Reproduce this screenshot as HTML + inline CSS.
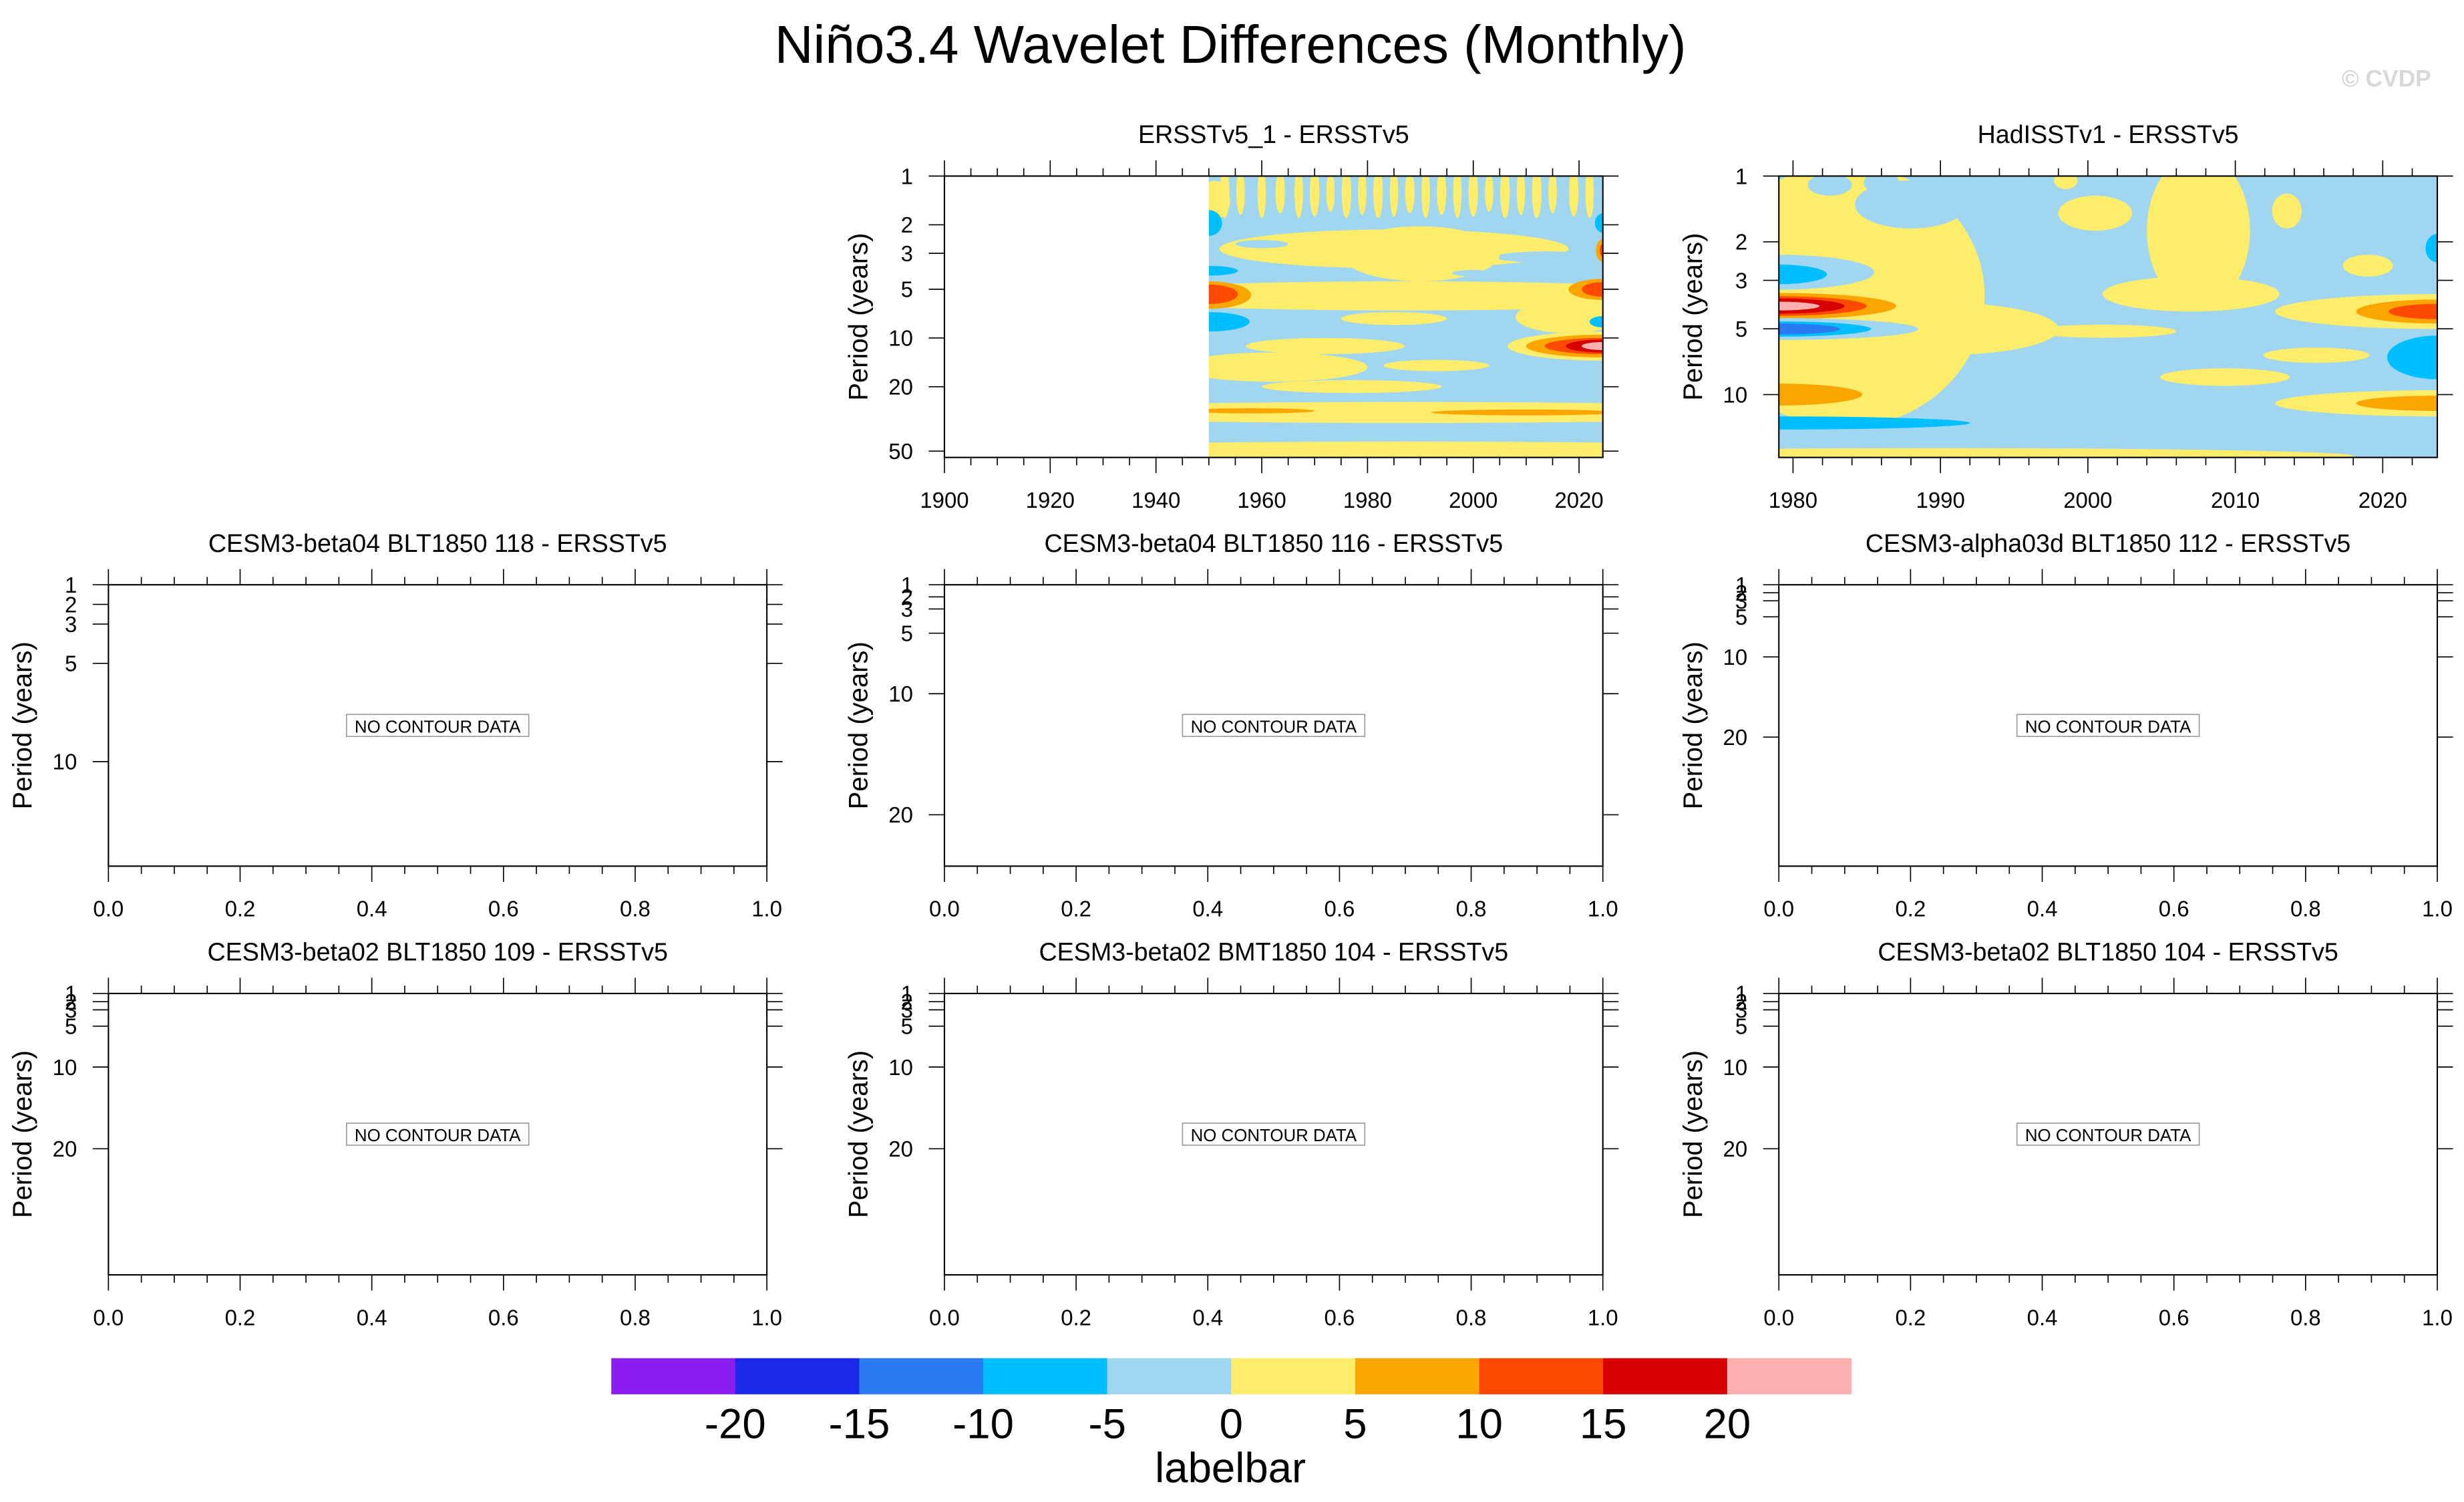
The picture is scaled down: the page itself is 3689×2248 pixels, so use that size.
<!DOCTYPE html>
<html><head><meta charset="utf-8"><style>
html,body{margin:0;padding:0;background:#fff;}
svg{display:block;font-family:"Liberation Sans",sans-serif;}
</style></head><body>
<svg id="fig" width="3689" height="2248" viewBox="0 0 1568 955.5" preserveAspectRatio="none" xmlns="http://www.w3.org/2000/svg">
<text x="783" y="40" font-size="34" text-anchor="middle">Niño3.4 Wavelet Differences (Monthly)</text>
<text x="1547" y="55" font-size="15" font-weight="bold" fill="#d8d8d8" text-anchor="end">© CVDP</text>
<g id="panels"></g>
<g id="cbar"></g>
</svg>
<script>
// ---- Data: contour-level blobs (year, log10 period, half-width years, half-height decades, value) ----
const ersstYears = [1987,1987,1958,2010,1977,1962,1972,1993,1987,1985,2018,1985,1960,2014,1951,1990,
 1953,1956,1960,1963.5,1967,1970,1973,1976,1979,1982,1985,1988,1991,1994,1997,2000,2003,2006,2009,2012,2015,2019,2022,
 1950,2024.5,2024.5,2024.5,1950,1950,1950,1950,2024.5,2024.5,2024.5,2024.5,2024.5,2024.5,2024.5,2024.5,1975,2000];
const ersstLogP = [1.69,1.46,1.45,1.46,1.30,1.18,1.05,1.17,0.74,0.88,0.87,0.45,0.42,0.50,0.15,0.48,
 0.1,0.1,0.1,0.1,0.1,0.1,0.1,0.1,0.1,0.1,0.1,0.1,0.1,0.1,0.1,0.1,0.1,0.1,0.1,0.1,0.1,0.1,0.1,
 0.29,0.29,0.46,0.46,0.585,0.735,0.73,0.90,0.70,0.70,0.90,1.05,1.05,1.05,1.05,1.05,0.62,0.6];
const ersstHalfW = [80,80,12,18,17,18,15,10,60,10,10,33,5,10,3,15,
 0.9,0.8,0.8,0.9,0.8,0.9,0.8,0.9,0.8,0.9,0.8,0.9,0.8,0.9,0.8,0.9,0.8,0.9,0.8,0.9,0.8,0.9,0.8,
 2.5,1.5,1.3,0.6,5.5,8,5.5,7.7,6.5,4,2.5,18,14.5,11,7,4,5,4];
const ersstHalfH = [0.05,0.065,0.016,0.018,0.04,0.09,0.05,0.035,0.09,0.04,0.1,0.12,0.025,0.035,0.12,0.17,
 0.16,0.14,0.16,0.13,0.16,0.15,0.12,0.16,0.14,0.16,0.15,0.13,0.16,0.14,0.16,0.15,0.12,0.16,0.14,0.16,0.13,0.15,0.16,
 0.08,0.06,0.07,0.04,0.03,0.085,0.06,0.06,0.065,0.045,0.035,0.09,0.07,0.05,0.04,0.025,0.02,0.02];
const ersstValues = [2,2,7,7,2,2,2,2,2,2,2,2,-2,-2,2,2,
 2,2,2,2,2,2,2,2,2,2,2,2,2,2,2,2,2,2,2,2,2,2,2,
 -7,-7,7,12,-7,7,12,-7,7,12,-7,2,7,12,17,22,-2,-2];

const hadYears = [1983.5,1988,1982.5,1986,1990,2001,2007.5,2007,2000.5,2013.5,2019,1979,1979,1979,1979,1979,1979,1979,1979,1979,
 2023.7,2023.7,2023.7,2023.7,2023.7,2015.5,2009.3,2023.7,2023.7,1979,1985,1979,1990,1998.5];
const hadLogP = [0.55,0.13,0.04,0.03,0.7,0.71,0.25,0.54,0.17,0.16,0.41,0.44,0.45,0.595,0.595,0.595,0.595,0.7,0.7,0.7,
 0.62,0.62,0.62,0.83,0.33,0.82,0.92,1.04,1.04,1.0,1.17,1.13,1.28,0.02];
const hadHalfW = [9.5,3.8,1.5,1.2,8,5,3.5,6,2.5,1,1.7,6.5,3.3,8,6,4.5,2.8,9.5,6.3,4.2,
 11,5.5,3.3,3.4,0.8,3.6,4.4,11,5.5,5.7,14,13,28,0.8];
const hadHalfH = [0.6,0.11,0.05,0.05,0.12,0.03,0.35,0.08,0.08,0.08,0.05,0.08,0.045,0.06,0.045,0.035,0.02,0.05,0.035,0.025,
 0.08,0.055,0.035,0.1,0.065,0.035,0.04,0.06,0.035,0.05,0.06,0.03,0.035,0.04];
const hadValues = [2,-2,-2,-2,2,2,2,2,2,2,2,-2,-7,7,12,17,22,-2,-7,-12,
 2,7,12,-7,-7,2,2,2,7,7,-2,-7,2,2];

const cbarLevels = [-20,-15,-10,-5,0,5,10,15,20];
const cbarColors = ["#8a1df0","#1a2ae8","#2b7af0","#00bfff","#a0d6f0","#fded6a","#fba500","#fd4a00","#d70000","#fdb0b0"];

// ---- helpers ----
const NS="http://www.w3.org/2000/svg";
function mk(tag,attrs,parent){const e=document.createElementNS(NS,tag);for(const k in attrs)e.setAttribute(k,attrs[k]);parent.appendChild(e);return e;}
function colorFor(v){let i=Math.floor((v+25)/5);i=Math.max(0,Math.min(9,i));return cbarColors[i];}
const panelsG=document.getElementById('panels');

function drawPanel(p){
  const g=mk('g',{},panelsG);
  
  
  const xs=v=>p.x0+(v-p.xd[0])/(p.xd[1]-p.xd[0])*(p.x1-p.x0);
  const ys=p.ys;
  const t=mk('text',{x:(p.x0+p.x1)/2,y:p.y0-21,'font-size':16,'text-anchor':'middle'},g);
  t.textContent=p.title;
  
  
  if(p.blobs){
    const cid='clip'+p.id;
    const cp=mk('clipPath',{id:cid},g);mk('rect',{x:p.x0,y:p.y0,width:p.x1-p.x0,height:p.y1-p.y0},cp);
    const cg=mk('g',{'clip-path':'url(#'+cid+')'},g);
    
    
    mk('rect',{x:xs(p.dataStart),y:p.y0,width:p.x1-xs(p.dataStart),height:p.y1-p.y0,fill:colorFor(-2)},cg);
    const b=p.blobs;
    const pxY=(p.x1-p.x0)/(p.xd[1]-p.xd[0]);
    const dg=mk('g',{},cg);
    const cid2='clipd'+p.id;
    const cp2=mk('clipPath',{id:cid2},g);mk('rect',{x:xs(p.dataStart),y:p.y0,width:p.x1-xs(p.dataStart),height:p.y1-p.y0},cp2);
    dg.setAttribute('clip-path','url(#'+cid2+')');
    for(let i=0;i<b.years.length;i++){
      const e=mk('ellipse',{cx:xs(b.years[i]),cy:p.yl(b.logp[i]),rx:b.hw[i]*pxY,ry:b.hh[i]*p.pxDec,fill:colorFor(b.vals[i])},dg);
      
      
    }
  }
  const fr=mk('rect',{x:p.x0,y:p.y0,width:p.x1-p.x0,height:p.y1-p.y0,fill:'none',stroke:'#000','stroke-width':0.9},g);
  
  
  const ax=mk('g',{stroke:'#000','stroke-width':0.7},g);
  
  
  const nMin=Math.round((p.xd[1]-p.xd[0])/p.minor);
  for(let k=0;k<=nMin+1;k++){
    const v=p.xStart+k*p.minor; if(v>p.xd[1]+1e-6) break; if(v<p.xd[0]-1e-6) continue;
    const isMaj=Math.abs(((v-p.xStart)/p.major)-Math.round((v-p.xStart)/p.major))<1e-6;
    const L=isMaj?10:5, x=xs(v);
    mk('line',{x1:x,y1:p.y0,x2:x,y2:p.y0-L},ax);
    mk('line',{x1:x,y1:p.y1,x2:x,y2:p.y1+L},ax);
    if(isMaj){const tl=mk('text',{x:x,y:p.y1+32,'font-size':14,'text-anchor':'middle',stroke:'none',fill:'#000'},g);
      tl.textContent=p.fmt(v);
      
      }
  }
  const ay=mk('g',{stroke:'#000','stroke-width':0.7},g);
  
  
  p.yticks.forEach(v=>{const y=ys(v); if(y>p.y1+0.5) return;
    mk('line',{x1:p.x0,y1:y,x2:p.x0-10,y2:y},ay);
    mk('line',{x1:p.x1,y1:y,x2:p.x1+10,y2:y},ay);
    const tl=mk('text',{x:p.x0-20,y:y+5,'font-size':14,'text-anchor':'end'},g);
    tl.textContent=v;
    
    
  });
  const yl=mk('text',{x:0,y:0,'font-size':17,'text-anchor':'middle',transform:'translate('+(p.x0-49)+','+((p.y0+p.y1)/2)+') rotate(-90)'},g);
  yl.textContent='Period (years)';
  
  
  if(p.nodata){
    const cx=(p.x0+p.x1)/2, cy=(p.y0+p.y1)/2;
    const bx=mk('rect',{x:cx-58,y:cy-7,width:116,height:14,fill:'#fff',stroke:'#999','stroke-width':0.7},g);
    
    
    const nt=mk('text',{x:cx,y:cy+4.5,'font-size':11,'text-anchor':'middle'},g);
    nt.textContent='NO CONTOUR DATA';
    
    
  }
}

const cols=[[69,488],[601,1020],[1132,1551]];
(function(){
  const y0=112,y1=291,pxDec=103;
  drawPanel({id:'a',name:'panel-ersstv5-1',title:'ERSSTv5_1 - ERSSTv5',x0:601,x1:1020,y0,y1,xd:[1900,2024.5],xStart:1900,major:20,minor:5,
    fmt:v=>String(v),pxDec,yl:l=>y0+l*pxDec,ys:v=>y0+Math.log10(v)*pxDec,yticks:[1,2,3,5,10,20,50],dataStart:1950,
    blobs:{years:ersstYears,logp:ersstLogP,hw:ersstHalfW,hh:ersstHalfH,vals:ersstValues}});
})();
(function(){
  const y0=112,y1=291,pxDec=139;
  drawPanel({id:'b',name:'panel-hadisstv1',title:'HadISSTv1 - ERSSTv5',x0:1132,x1:1551,y0:y0,y1,xd:[1979.04,2023.7],xStart:1980,major:10,minor:2,
    fmt:v=>String(v),pxDec,yl:l=>y0+l*pxDec,ys:v=>y0+Math.log10(v)*pxDec,yticks:[1,2,3,5,10],dataStart:1979.04,
    blobs:{years:hadYears,logp:hadLogP,hw:hadHalfW,hh:hadHalfH,vals:hadValues}});
})();
const emptyTitles=[['CESM3-beta04 BLT1850 118 - ERSSTv5','CESM3-beta04 BLT1850 116 - ERSSTv5','CESM3-alpha03d BLT1850 112 - ERSSTv5'],
 ['CESM3-beta02 BLT1850 109 - ERSSTv5','CESM3-beta02 BMT1850 104 - ERSSTv5','CESM3-beta02 BLT1850 104 - ERSSTv5']];
const emptyScale=[[12.5,7.7,5.1],[5.2,5.2,5.2]];
const emptyTicks=[[[1,2,3,5,10],[1,2,3,5,10,20],[1,2,3,5,10,20]],[[1,2,3,5,10,20],[1,2,3,5,10,20],[1,2,3,5,10,20]]];
[372,632].forEach((y0,r)=>{
  cols.forEach((c,ci)=>{
    const k=emptyScale[r][ci];
    drawPanel({id:'e'+r+ci,name:'panel-empty-'+r+'-'+ci,title:emptyTitles[r][ci],x0:c[0],x1:c[1],y0,y1:y0+179,xd:[0,1],xStart:0,major:0.2,minor:0.05,
      fmt:v=>v.toFixed(1),ys:v=>y0+(v-1)*k,yticks:emptyTicks[r][ci],nodata:true});
  });
});
(function(){
  const g=document.getElementById('cbar');
  
  
  const x0=389,x1=1178,y0=864,h=23,w=(x1-x0)/cbarColors.length;
  cbarColors.forEach((c,i)=>{const r=mk('rect',{x:x0+i*w,y:y0,width:w+0.3,height:h,fill:c},g);
    
    });
  cbarLevels.forEach((v,i)=>{const t=mk('text',{x:x0+(i+1)*w,y:915,'font-size':27,'text-anchor':'middle'},g);
    t.textContent=String(v);
    
    });
  const lt=mk('text',{x:783,y:943,'font-size':27,'text-anchor':'middle'},g);
  lt.textContent='labelbar';
  
  
})();
</script>
</body></html>
